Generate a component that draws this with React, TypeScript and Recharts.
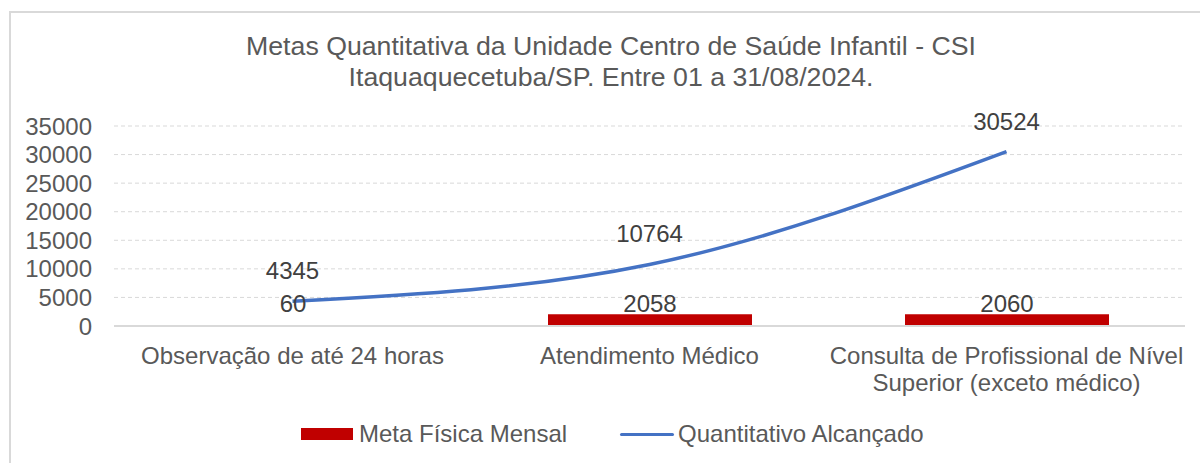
import * as React from "react";
import {
  ComposedChart,
  Bar,
  Line,
  XAxis,
  YAxis,
  CartesianGrid,
  Legend,
  LabelList,
} from "recharts";

const categories = [
  "Observação de até 24 horas",
  "Atendimento Médico",
  "Consulta de Profissional de Nível\nSuperior (exceto médico)",
];
const metaFisica = [60, 2058, 2060];
const alcancado = [4345, 10764, 30524];
const yTicks = [0, 5000, 10000, 15000, 20000, 25000, 30000, 35000];

const data = categories.map((name, i) => ({
  name,
  meta: metaFisica[i],
  alcancado: alcancado[i],
}));

const TEXT = "#595959";
const FONT = '"Liberation Sans", Arial, sans-serif';

const CategoryTick = (props: any) => {
  const { x, y, payload } = props;
  const lines = String(payload.value).split("\n");
  return (
    <text x={x} y={y} textAnchor="middle" fill={TEXT} fontSize={24}>
      {lines.map((l, i) => (
        <tspan key={i} x={x} dy={i === 0 ? 38 : 27}>
          {l}
        </tspan>
      ))}
    </text>
  );
};

const BarValue = (props: any) => {
  const { x, y, width, height, value } = props;
  return (
    <text
      x={x + width / 2}
      y={y + height - 14}
      textAnchor="middle"
      fill="#404040"
      fontSize={24}
    >
      {value}
    </text>
  );
};

const LegendContent = () => (
  <div
    style={{
      height: 38,
      display: "flex",
      alignItems: "center",
      paddingLeft: 301,
      fontSize: 24,
      color: TEXT,
      fontFamily: FONT,
    }}
  >
    <span style={{ width: 52, height: 12, background: "#C00000" }} />
    <span style={{ marginLeft: 6 }}>Meta Física Mensal</span>
    <span
      style={{ width: 54, height: 3, background: "#4472C4", marginLeft: 53, borderRadius: 2 }}
    />
    <span style={{ marginLeft: 4 }}>Quantitativo Alcançado</span>
  </div>
);

export default function App() {
  return (
    <div style={{ position: "relative", width: 1200, height: 463, fontFamily: FONT }}>
      <style>{"body{margin:0;overflow:hidden;background:#fff}"}</style>
      <div
        style={{
          position: "absolute",
          left: 9,
          top: 11,
          width: 1200,
          height: 500,
          border: "2px solid #D9D9D9",
          boxSizing: "border-box",
        }}
      />
      <div
        style={{
          position: "absolute",
          left: 11,
          top: 31,
          width: 1200,
          textAlign: "center",
          fontSize: 26.7,
          lineHeight: "31px",
          color: TEXT,
        }}
      >
        Metas Quantitativa da Unidade Centro de Saúde Infantil - CSI
        <br />
        Itaquaquecetuba/SP. Entre 01 a 31/08/2024.
      </div>
      <div style={{ position: "absolute", left: 0, top: 0 }}>
        <ComposedChart
          width={1200}
          height={463}
          data={data}
          margin={{ top: 126, right: 15, bottom: 10, left: 0 }}
        >
          <CartesianGrid
            vertical={false}
            stroke="#D9D9D9"
            strokeDasharray="4 3"
          />
          <XAxis
            dataKey="name"
            height={89}
            tickLine={false}
            tickSize={0}
            tickMargin={0}
            axisLine={{ stroke: "#D9D9D9", strokeWidth: 2 }}
            tick={<CategoryTick />}
            interval={0}
          />
          <YAxis
            width={114}
            domain={[0, 35000]}
            ticks={yTicks}
            interval={0}
            axisLine={false}
            tickLine={false}
            tickSize={0}
            tickMargin={22}
            tick={{ fill: TEXT, fontSize: 24 }}
          />
          <Legend verticalAlign="bottom" height={38} content={<LegendContent />} />
          <Bar
            dataKey="meta"
            name="Meta Física Mensal"
            fill="#C00000"
            barSize={204}
            isAnimationActive={false}
          >
            <LabelList dataKey="meta" content={<BarValue />} />
          </Bar>
          <Line
            dataKey="alcancado"
            name="Quantitativo Alcançado"
            type="monotone"
            stroke="#4472C4"
            strokeWidth={3.5}
            dot={false}
            isAnimationActive={false}
          >
            <LabelList
              dataKey="alcancado"
              position="top"
              offset={22}
              fill="#404040"
              fontSize={24}
            />
          </Line>
        </ComposedChart>
      </div>
    </div>
  );
}
